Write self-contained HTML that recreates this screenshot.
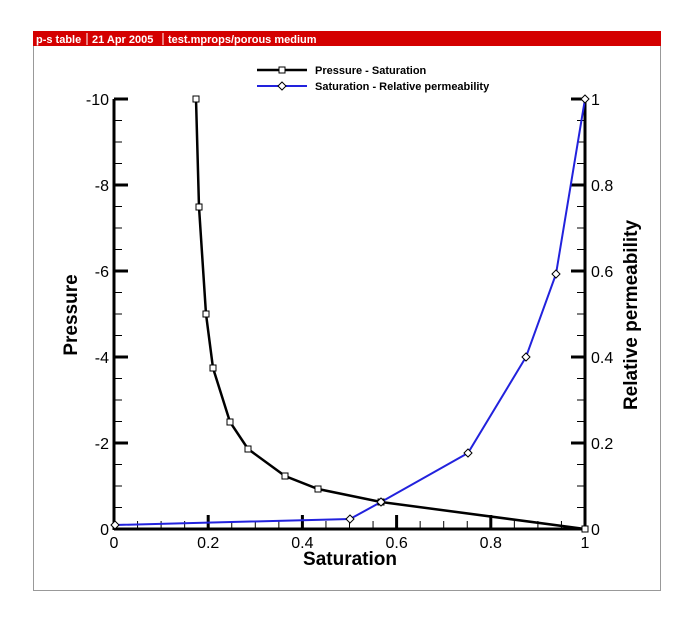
<!DOCTYPE html>
<html><head><meta charset="utf-8"><style>
html,body{margin:0;padding:0;background:#fff;}
svg{display:block;font-family:"Liberation Sans",Arial,sans-serif;}
</style></head><body>
<svg id="s" width="700" height="626" viewBox="0 0 700 626" xmlns="http://www.w3.org/2000/svg">
<rect x="33.5" y="31.5" width="627" height="559" fill="#fff" stroke="#999" stroke-width="1"/>
<rect x="33" y="31" width="628" height="15" fill="#d40000"/>
<text x="36" y="43" font-size="11" font-weight="bold" fill="#fff">p-s table</text>
<line x1="87" y1="33" x2="87" y2="45" stroke="#fff"/>
<text x="92" y="43" font-size="11" font-weight="bold" fill="#fff">21 Apr 2005</text>
<line x1="163" y1="33" x2="163" y2="45" stroke="#fff"/>
<text x="168" y="43" font-size="11" font-weight="bold" fill="#fff">test.mprops/porous medium</text>
<g id="ticks" stroke="#000"></g>
<line x1="114" y1="99" x2="114" y2="530" stroke="#000" stroke-width="3"/>
<line x1="585" y1="99" x2="585" y2="530" stroke="#000" stroke-width="3"/>
<line x1="114" y1="529" x2="585" y2="529" stroke="#000" stroke-width="3"/>
<g font-size="16" fill="#000" id="labels"></g>
<text x="350" y="565" font-size="19" font-weight="bold" text-anchor="middle">Saturation</text>
<text transform="translate(77,315) rotate(-90)" font-size="19" font-weight="bold" text-anchor="middle">Pressure</text>
<text transform="translate(637,315) rotate(-90)" font-size="19" font-weight="bold" text-anchor="middle">Relative permeability</text>
<polyline fill="none" stroke="#000" stroke-width="2.5" points="196,99 199,207 206,314 213,368 230,422 248,449 285,476 318,489 381,502 585,529"/>
<polyline fill="none" stroke="#2222dd" stroke-width="2" points="115,525 350,519 381,502 468,453 526,357 556,274 585,99"/>
<g id="mk" fill="#fff" stroke="#000" stroke-width="1"></g>
<line x1="257" y1="70" x2="307" y2="70" stroke="#000" stroke-width="2.5"/>
<rect x="279" y="67" width="6" height="6" fill="#fff" stroke="#000"/>
<text x="315" y="74" font-size="11" font-weight="bold">Pressure - Saturation</text>
<line x1="257" y1="86" x2="307" y2="86" stroke="#2222dd" stroke-width="2"/>
<path d="M282 82 L286 86 L282 90 L278 86Z" fill="#fff" stroke="#000"/>
<text x="315" y="90" font-size="11" font-weight="bold">Saturation - Relative permeability</text>
</svg>
<script>
var NS="http://www.w3.org/2000/svg";
function el(p,t,a,txt){var e=document.createElementNS(NS,t);for(var k in a)e.setAttribute(k,a[k]);if(txt!=null)e.textContent=txt;document.getElementById(p).appendChild(e);}
for(var i=0;i<=20;i++){var y=529-i*21.5;var maj=i%4==0;
 el("ticks","line",{x1:114,y1:y,x2:114+(maj?14:8),y2:y,"stroke-width":maj?3:1});
 el("ticks","line",{x1:585,y1:y,x2:585-(maj?14:8),y2:y,"stroke-width":maj?3:1});}
for(var i=0;i<=20;i++){var x=114+i*23.55;var maj=i%4==0;
 el("ticks","line",{x1:x,y1:529,x2:x,y2:529-(maj?14:8),"stroke-width":maj?3:1});}
var ll=["0","-2","-4","-6","-8","-10"],rl=["0","0.2","0.4","0.6","0.8","1"],bl=["0","0.2","0.4","0.6","0.8","1"];
for(var i=0;i<6;i++){var y=529-i*86;
 el("labels","text",{x:109,y:y+6,"text-anchor":"end"},ll[i]);
 el("labels","text",{x:591,y:y+6},rl[i]);
 el("labels","text",{x:114+i*94.2,y:548,"text-anchor":"middle"},bl[i]);}
var P=[[196,99],[199,207],[206,314],[213,368],[230,422],[248,449],[285,476],[318,489],[381,502],[585,529]];
P.forEach(function(p){el("mk","rect",{x:p[0]-3,y:p[1]-3,width:6,height:6});});
var B=[[115,525],[350,519],[381,502],[468,453],[526,357],[556,274],[585,99]];
B.forEach(function(p){el("mk","path",{d:"M"+p[0]+" "+(p[1]-4)+" l4 4 l-4 4 l-4 -4Z"});});
</script>
</body></html>
